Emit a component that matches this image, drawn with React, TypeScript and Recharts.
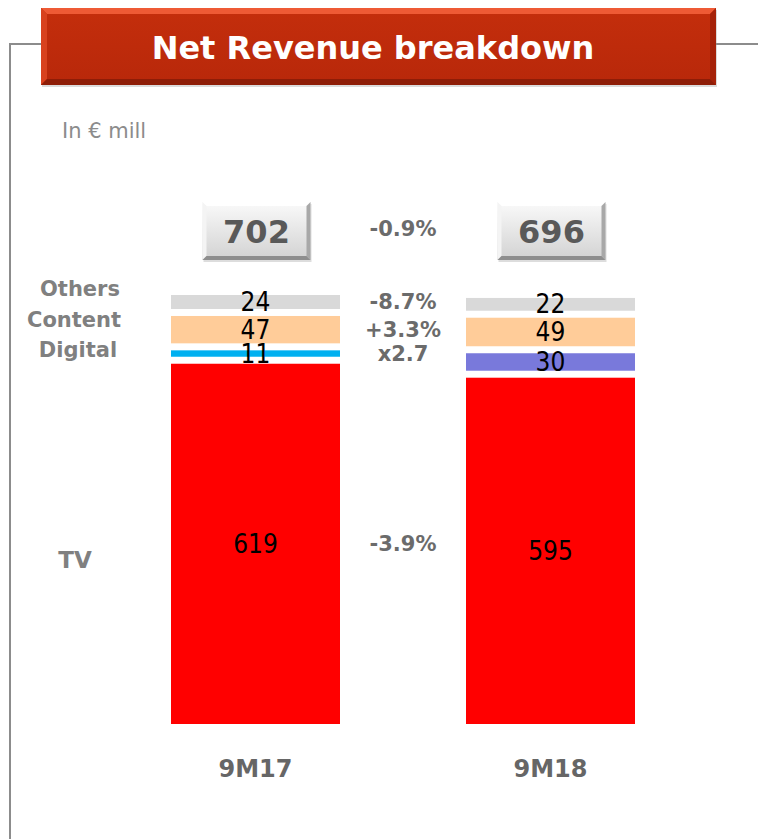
import React from 'react';
import { BarChart, Bar, XAxis, YAxis, LabelList } from 'recharts';

const categories = ['9M17', '9M18'];
const tvValues = [619, 595];
const digitalValues = [11, 30];
const contentValues = [47, 49];
const othersValues = [24, 22];
const totals = [702, 696];
const totalGrowth = '-0.9%';
const tvGrowth = '-3.9%';
const digitalGrowth = 'x2.7';
const contentGrowth = '+3.3%';
const othersGrowth = '-8.7%';
const seriesLabels = ['Others', 'Content', 'Digital', 'TV'];

const TV_COLOR = '#FF0000';
const DIGITAL_COLORS = ['#00B0F0', '#7979DB'];
const CONTENT_COLOR = '#FFCC99';
const OTHERS_COLOR = '#D9D9D9';
const GAP = 7;
const BOLD = "'DejaVu Sans', Verdana, sans-serif";
const COND = "'DejaVu Sans Condensed', 'DejaVu Sans', sans-serif";

const data = categories.map((cat, i) => ({
  cat,
  tv: tvValues[i],
  digital: digitalValues[i],
  content: contentValues[i],
  others: othersValues[i],
  total: totals[i],
}));

const boxOf = (p: any) => (p.viewBox && p.viewBox.width !== undefined ? p.viewBox : p);

const makeShape = (k: number, colorFor: (i: number) => string) => (props: any) => {
  const { x, y, width, height, index } = props;
  return <rect x={x} y={y - k * GAP} width={width} height={Math.max(height, 0)} fill={colorFor(index)} />;
};

const makeValueLabel = (k: number) => (p: any) => {
  const b = boxOf(p);
  const cx = b.x + b.width / 2;
  const cy = b.y - k * GAP + b.height / 2;
  return (
    <text key={`v${k}-${p.index}`} x={cx} y={cy} textAnchor="middle" dominantBaseline="central"
      fontFamily={COND} fontSize={26} fill="#000">
      {p.value}
    </text>
  );
};

const makeGrowthLabel = (k: number, growth: string) => (p: any) => {
  if (p.index !== 0) return null;
  const b = boxOf(p);
  const cx = b.x + b.width + 63;
  const cy = b.y - k * GAP + b.height / 2;
  return (
    <text key={`g${k}`} x={cx} y={cy} textAnchor="middle" dominantBaseline="central"
      fontFamily={BOLD} fontWeight="bold" fontSize={21} fill="#6B6B6B">
      {growth}
    </text>
  );
};

const TotalBox = (p: any) => {
  const b = boxOf(p);
  const cx = b.x + b.width / 2;
  const w = 108;
  const h = 58;
  const x0 = cx - w / 2 + 1;
  const y0 = 202;
  const bv = 4;
  return (
    <g key={`t${p.index}`}>
      <rect x={x0 + 1} y={y0 + 2} width={w} height={h} fill="#bbb" opacity={0.5} />
      <rect x={x0} y={y0} width={w} height={h} fill="url(#boxFace)" />
      <polygon points={`${x0},${y0} ${x0 + w},${y0} ${x0 + w - bv},${y0 + bv} ${x0 + bv},${y0 + bv}`} fill="#FFFFFF" />
      <polygon points={`${x0},${y0} ${x0 + bv},${y0 + bv} ${x0 + bv},${y0 + h - bv} ${x0},${y0 + h}`} fill="#F4F4F4" />
      <polygon points={`${x0 + w},${y0} ${x0 + w},${y0 + h} ${x0 + w - bv},${y0 + h - bv} ${x0 + w - bv},${y0 + bv}`} fill="#A8A8A8" />
      <polygon points={`${x0},${y0 + h} ${x0 + w},${y0 + h} ${x0 + w - bv},${y0 + h - bv} ${x0 + bv},${y0 + h - bv}`} fill="#8E8E8E" />
      <text x={cx + 1} y={y0 + h / 2 + 1} textAnchor="middle" dominantBaseline="central"
        fontFamily={BOLD} fontWeight="bold" fontSize={32} fill="#595959">
        {p.value}
      </text>
      {p.index === 0 ? (
        <text x={b.x + b.width + 63} y={y0 + h / 2 - 2} textAnchor="middle" dominantBaseline="central"
          fontFamily={BOLD} fontWeight="bold" fontSize={21} fill="#6B6B6B">
          {totalGrowth}
        </text>
      ) : null}
    </g>
  );
};

const CatTick = (props: any) => {
  const { x, payload } = props;
  return (
    <text x={x} y={769} textAnchor="middle" dominantBaseline="central"
      fontFamily={BOLD} fontWeight="bold" fontSize={24} fill="#666666">
      {payload.value}
    </text>
  );
};

export default function App() {
  const tx = 41, ty = 8, tw = 675, th = 77, tb = 6;
  return (
    <div style={{ position: 'absolute', left: 0, top: 0, width: 758, height: 839, background: '#fff', overflow: 'hidden' }}>
      <svg width={758} height={839} style={{ position: 'absolute', left: 0, top: 0 }}>
        <defs>
          <linearGradient id="titleFace" x1="0" y1="0" x2="0" y2="1">
            <stop offset="0" stopColor="#C42E0C" />
            <stop offset="1" stopColor="#B8280A" />
          </linearGradient>
        </defs>
        <polyline points="10,839 10,44 41,44" fill="none" stroke="#8C8C8C" strokeWidth={2} />
        <line x1={716} y1={44} x2={758} y2={44} stroke="#8C8C8C" strokeWidth={2} />
        <rect x={tx + 1} y={ty + 2} width={tw} height={th} fill="#999" opacity={0.35} />
        <rect x={tx} y={ty} width={tw} height={th} fill="url(#titleFace)" />
        <polygon points={`${tx},${ty} ${tx + tw},${ty} ${tx + tw - tb},${ty + tb} ${tx + tb},${ty + tb}`} fill="#EE5A35" />
        <polygon points={`${tx},${ty} ${tx + tb},${ty + tb} ${tx + tb},${ty + th - tb} ${tx},${ty + th}`} fill="#D8421E" />
        <polygon points={`${tx + tw},${ty} ${tx + tw},${ty + th} ${tx + tw - tb},${ty + th - tb} ${tx + tw - tb},${ty + tb}`} fill="#A52209" />
        <polygon points={`${tx},${ty + th} ${tx + tw},${ty + th} ${tx + tw - tb},${ty + th - tb} ${tx + tb},${ty + th - tb}`} fill="#8E1D07" />
        <text x={373} y={48} textAnchor="middle" dominantBaseline="central" fontFamily={BOLD}
          fontWeight="bold" fontSize={32} fill="#FFFFFF">Net Revenue breakdown</text>
        <text x={62} y={131} dominantBaseline="central" fontFamily={BOLD} fontSize={21} fill="#8C8C8C">In € mill</text>
        <text x={80} y={289} textAnchor="middle" dominantBaseline="central" fontFamily={BOLD} fontWeight="bold" fontSize={21} fill="#808080">{seriesLabels[0]}</text>
        <text x={74} y={320} textAnchor="middle" dominantBaseline="central" fontFamily={BOLD} fontWeight="bold" fontSize={21} fill="#808080">{seriesLabels[1]}</text>
        <text x={78} y={350} textAnchor="middle" dominantBaseline="central" fontFamily={BOLD} fontWeight="bold" fontSize={21} fill="#808080">{seriesLabels[2]}</text>
        <text x={75} y={560} textAnchor="middle" dominantBaseline="central" fontFamily={BOLD} fontWeight="bold" fontSize={23} fill="#808080">{seriesLabels[3]}</text>
      </svg>
      <div style={{ position: 'absolute', left: 0, top: 0 }}>
        <BarChart width={758} height={839} data={data} margin={{ top: 142, right: 60, bottom: 85, left: 108 }}>
          <defs>
            <linearGradient id="boxFace" x1="0" y1="0" x2="0" y2="1">
              <stop offset="0" stopColor="#FAFAFA" />
              <stop offset="1" stopColor="#D2D2D2" />
            </linearGradient>
          </defs>
          <XAxis dataKey="cat" axisLine={false} tickLine={false} tick={<CatTick />} interval={0} height={30} />
          <YAxis hide domain={[0, 1000]} allowDataOverflow />
          <Bar dataKey="tv" stackId="s" barSize={169} fill={TV_COLOR} isAnimationActive={false}
            shape={makeShape(0, () => TV_COLOR)}>
            <LabelList dataKey="tv" content={makeValueLabel(0)} />
            <LabelList dataKey="tv" content={makeGrowthLabel(0, tvGrowth)} />
          </Bar>
          <Bar dataKey="digital" stackId="s" barSize={169} fill={DIGITAL_COLORS[0]} isAnimationActive={false}
            shape={makeShape(1, (i) => DIGITAL_COLORS[i])}>
            <LabelList dataKey="digital" content={makeValueLabel(1)} />
            <LabelList dataKey="digital" content={makeGrowthLabel(1, digitalGrowth)} />
          </Bar>
          <Bar dataKey="content" stackId="s" barSize={169} fill={CONTENT_COLOR} isAnimationActive={false}
            shape={makeShape(2, () => CONTENT_COLOR)}>
            <LabelList dataKey="content" content={makeValueLabel(2)} />
            <LabelList dataKey="content" content={makeGrowthLabel(2, contentGrowth)} />
          </Bar>
          <Bar dataKey="others" stackId="s" barSize={169} fill={OTHERS_COLOR} isAnimationActive={false}
            shape={makeShape(3, () => OTHERS_COLOR)}>
            <LabelList dataKey="others" content={makeValueLabel(3)} />
            <LabelList dataKey="others" content={makeGrowthLabel(3, othersGrowth)} />
            <LabelList dataKey="total" content={TotalBox} />
          </Bar>
        </BarChart>
      </div>
    </div>
  );
}
